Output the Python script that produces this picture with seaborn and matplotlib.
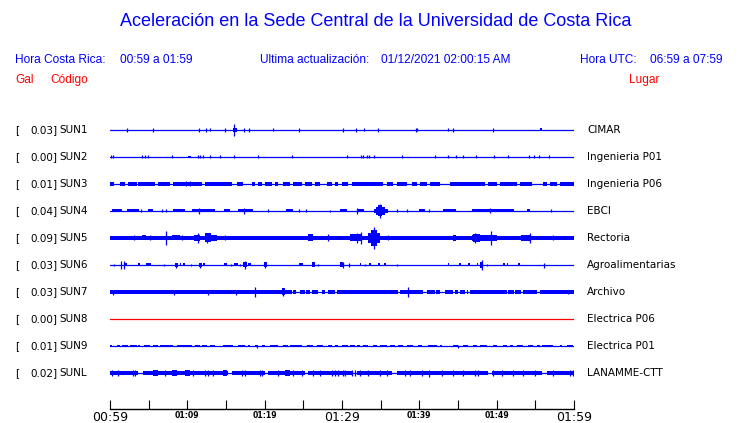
import matplotlib
matplotlib.use("Agg")
import matplotlib.pyplot as plt
import matplotlib.transforms as mtrans
import seaborn as sns

# ---------------- data ----------------
codes = ["SUN1", "SUN2", "SUN3", "SUN4", "SUN5", "SUN6", "SUN7", "SUN8", "SUN9", "SUNL"]
peak_gal = ["0.03", "0.00", "0.01", "0.04", "0.09", "0.03", "0.03", "0.00", "0.01", "0.02"]
places = ["CIMAR", "Ingenieria P01", "Ingenieria P06", "EBCI", "Rectoria",
          "Agroalimentarias", "Archivo", "Electrica P06", "Electrica P01", "LANAMME-CTT"]
trace_colors = ["#0000ff"] * 7 + ["#ff0000"] + ["#0000ff"] * 2

# minutes after 00:59 local time
tick_minutes = [0, 5, 10, 15, 20, 25, 30, 35, 40, 45, 50, 55, 60]
tick_labels = ["00:59", "", "01:09", "", "01:19", "", "01:29", "", "01:39", "", "01:49", "", "01:59"]
major_labels = ["00:59", "01:29", "01:59"]

# envelope blocks: (start minute, end minute, half amplitude)
seg_sun1 = [(15.86, 16.38, 2), (55.6, 55.86, 1.5)]
seg_sun2 = [(10.13, 10.47, 1)]
seg_sun3 = [(0, 0.56, 1.6), (1.29, 1.94, 1.6), (2.37, 3.45, 1.6), (3.66, 5.82, 1.6), (6.25, 7.76, 1.6),
            (8.19, 11.85, 1.6), (12.28, 15.73, 1.6), (16.38, 17.24, 1.6), (18.32, 18.75, 1.6),
            (19.18, 19.61, 1.6), (20.04, 20.91, 1.6), (21.34, 21.77, 1.6), (22.41, 23.28, 1.6),
            (23.71, 24.78, 1.6), (25.22, 26.08, 1.6), (26.51, 27.16, 1.6), (28.02, 28.66, 1.6),
            (29.09, 29.53, 1.6), (29.96, 30.82, 1.6), (31.25, 35.34, 1.6), (35.78, 36.64, 1.6),
            (37.07, 38.36, 1.6), (39.0, 39.66, 1.6), (40.09, 40.95, 1.6), (41.38, 42.67, 1.6),
            (43.97, 48.49, 1.6), (48.92, 50.0, 1.6), (50.43, 52.59, 1.6), (53.02, 54.53, 1.6),
            (56.03, 56.47, 1.6), (56.9, 57.76, 1.6), (58.19, 60, 1.6)]
seg_sun4 = [(0.2, 1.5, 1.5), (2.2, 3.7, 1.5), (4.9, 5.5, 1.5), (8.2, 9.7, 1.5), (10.6, 13.6, 1.5),
            (14.7, 15.5, 1.5), (16.6, 18.5, 1.5), (22.8, 23.7, 1.5), (29.7, 30.6, 1.5),
            (32.0, 32.8, 1.5), (34.1, 36.0, 2), (34.4, 35.5, 4), (34.7, 35.2, 5.5),
            (39.9, 40.7, 1.5), (43.1, 44.8, 1.5), (46.8, 52.2, 1.5), (53.9, 54.3, 1.5)]
seg_sun5 = [(0, 60, 1.9), (4.1, 4.7, 2.5), (8.0, 9.1, 2.5), (10.8, 11.6, 3), (12.3, 13.1, 4.5),
            (13.1, 13.8, 3), (25.6, 26.3, 3.5), (31.0, 32.5, 3.5), (33.4, 34.9, 5),
            (33.8, 34.5, 8), (44.4, 44.8, 3), (46.8, 50.0, 3), (47.0, 47.9, 4), (53.2, 54.3, 3)]
seg_sun6 = [(1.81, 2.16, 1.5), (3.58, 3.84, 1.5), (4.66, 5.26, 1.5), (8.41, 8.75, 2), (9.0, 9.15, 1.5),
            (9.5, 9.65, 1.5), (11.55, 11.85, 2), (12.07, 12.28, 1.5), (14.74, 15.17, 1.5),
            (15.99, 16.59, 1.5), (17.24, 17.67, 2.5), (17.89, 18.23, 1.5), (19.96, 20.26, 2.5),
            (24.48, 24.91, 1.5), (26.08, 26.51, 2.5), (29.74, 30.17, 2.5), (32.3, 32.5, 1.5),
            (33.5, 33.7, 1.5), (34.7, 34.9, 1.5), (35.47, 35.69, 1.5), (43.65, 43.85, 1.5),
            (45.16, 45.36, 1.5), (46.32, 46.52, 1.5), (47.41, 47.63, 1.5), (47.84, 48.28, 3),
            (50.85, 51.05, 1.5), (51.28, 51.48, 1.5), (52.79, 52.99, 1.5)]
seg_sun7 = [(0, 23.5, 1.8), (23.7, 24.1, 1.8), (24.6, 25.2, 1.8), (25.4, 25.9, 1.8), (26.1, 26.9, 1.8),
            (27.4, 27.8, 1.8), (28.2, 29.1, 1.8), (29.3, 37.3, 1.8), (37.5, 40.5, 1.8),
            (41.0, 42.0, 1.8), (42.2, 42.7, 1.8), (43.3, 44.4, 1.8), (44.6, 45.0, 1.8),
            (45.3, 45.9, 1.8), (46.1, 46.3, 1.8), (46.6, 51.3, 1.8), (51.5, 52.2, 1.8),
            (52.4, 53.2, 1.8), (53.4, 55.2, 1.8), (55.6, 60, 1.8), (22.2, 22.6, 3.5)]
seg_sun8 = []
seg_sun9 = [(0, 0.3, 1.4), (0.86, 1.29, 1.4), (1.51, 2.37, 1.4), (2.59, 3.45, 1.4), (3.66, 3.88, 1.4),
            (4.44, 5.17, 1.4), (5.6, 6.25, 1.4), (6.47, 8.19, 1.4), (8.62, 10.56, 1.4),
            (10.99, 11.64, 1.4), (11.85, 12.5, 1.4), (12.93, 13.58, 1.4), (14.66, 15.95, 1.4),
            (16.59, 17.46, 1.4), (17.89, 18.1, 1.4), (18.75, 19.18, 1.4), (19.61, 20.04, 1.4),
            (20.69, 21.77, 1.4), (22.41, 23.06, 1.4), (23.28, 24.78, 1.4), (25.43, 26.29, 1.4),
            (26.72, 27.59, 1.4), (28.23, 28.66, 1.4), (29.09, 29.53, 1.4), (29.96, 30.39, 1.4),
            (30.39, 30.82, 1.4), (31.03, 31.68, 1.4), (31.9, 32.33, 1.4), (32.76, 33.41, 1.4),
            (34.05, 34.48, 1.4), (34.91, 35.78, 1.4), (36.21, 36.85, 1.4), (37.28, 37.93, 1.4),
            (38.36, 39.22, 1.4), (39.87, 40.3, 1.4), (41.16, 42.24, 1.4), (42.67, 42.89, 1.4),
            (44.4, 45.04, 1.4), (45.69, 46.34, 1.4), (46.98, 47.41, 1.4), (47.84, 48.71, 1.4),
            (49.57, 50.0, 1.4), (50.86, 51.29, 1.4), (51.72, 52.16, 1.4), (52.59, 53.45, 1.4),
            (54.09, 54.74, 1.4), (55.17, 55.6, 1.4), (55.82, 57.33, 1.4), (58.19, 58.41, 1.4),
            (59.05, 59.91, 1.4)]
seg_sunl = [(0, 3.66, 2.0), (4.31, 15.3, 2.0), (15.73, 20.04, 2.0), (20.47, 25.22, 2.0),
            (25.65, 31.47, 2.0), (31.9, 36.42, 2.0), (37.07, 48.92, 2.0), (49.35, 55.82, 2.0),
            (56.47, 60, 2.0), (5.6, 6.25, 2.5), (7.97, 8.62, 2.5), (9.7, 10.34, 2.5),
            (14.66, 15.09, 2.5), (22.63, 23.28, 2.5)]

# single spikes: (minute, half amplitude)
spk_sun1 = [(2.16, 2), (5.6, 2), (11.55, 2), (12.41, 2), (12.97, 1.5), (14.87, 2), (16.07, 6),
            (17.37, 2), (18.01, 2), (21.12, 1.5), (24.48, 2), (30.17, 2), (31.81, 2), (32.89, 1.5),
            (34.7, 2), (39.53, 2), (39.74, 1.5), (43.75, 1.5), (44.39, 2), (49.57, 2)]
spk_sun2 = [(0.13, 1.5), (0.43, 1.5), (4.18, 1.5), (4.53, 1.5), (4.95, 1.5), (7.98, 1.5), (11.34, 1.5),
            (11.64, 1.5), (12.07, 1.5), (12.97, 1.5), (14.22, 1.5), (16.07, 1.5), (19.18, 1.5),
            (23.57, 1.5), (30.69, 1.5), (32.42, 1.5), (32.76, 1.5), (33.27, 1.5), (33.49, 1.5),
            (34.18, 1.5), (37.8, 1.5), (42.03, 1.5), (43.75, 1.5), (44.74, 1.5), (45.69, 1.5),
            (47.33, 1.5), (49.66, 1.5), (51.51, 1.5), (54.22, 1.5), (54.83, 1.5), (55.52, 1.5),
            (56.81, 1.5)]
spk_sun3 = [(9.83, 2.5), (10.34, 2.5)]
spk_sun4 = [(4.0, 1.5), (6.7, 1.5), (7.3, 1.5), (11.55, 3), (17.37, 3), (20.4, 1.5), (24.4, 1.5),
            (25.4, 1.5), (28.4, 1), (31.9, 3), (34.9, 7), (37.1, 1.5), (38.4, 1.5), (41.2, 1.5),
            (49.1, 2.5), (57.0, 1.5)]
spk_sun5 = [(3.1, 2.5), (5.2, 2.5), (7.3, 7), (9.3, 2.5), (11.4, 5), (12.5, 5), (14.9, 2.5),
            (28.2, 3.5), (32.0, 5), (32.4, 6), (34.2, 11), (36.0, 2.5), (47.2, 5), (49.3, 7),
            (54.3, 5), (57.3, 2.5)]
spk_sun6 = [(0.56, 1.5), (1.42, 4), (1.85, 3.5), (7.03, 1.5), (8.49, 2.5), (10.43, 1.5), (11.6, 2.5),
            (15.65, 1.5), (16.81, 1.5), (17.5, 3.5), (20.1, 3), (26.94, 1.5), (30.09, 3),
            (30.95, 2), (32.97, 1.5), (37.07, 1.5), (48.06, 4.5), (48.79, 1.5), (56.16, 2.5)]
spk_sun7 = [(0.43, 2.5), (8.28, 2.5), (12.72, 2.5), (16.25, 2.5), (18.75, 4.5), (22.41, 3.5),
            (38.5, 4.5), (59.2, 2)]
spk_sun8 = []
spk_sun9 = [(19.0, 1.5), (45.0, 1.5)]
spk_sunl = [(0.22, 2.5), (1.08, 2.5), (3.02, 2.5), (3.23, 2.5), (7.11, 2.5), (10.78, 2.5), (12.28, 2.5),
            (12.72, 2.5), (13.36, 2.5), (17.03, 2.5), (17.46, 2.5), (19.4, 2.5), (19.61, 2.5),
            (21.77, 2.5), (23.71, 2.5), (24.78, 2.5), (26.29, 2.5), (27.16, 2.5), (28.66, 2.5),
            (29.09, 2.5), (29.53, 2.5), (30.17, 2.5), (30.39, 2.5), (31.25, 2.5), (31.68, 2.5),
            (32.33, 2.5), (33.41, 2.5), (34.91, 2.5), (35.78, 2.5), (38.15, 2.5), (38.79, 2.5),
            (40.3, 2.5), (41.29, 3.5), (42.89, 2.5), (44.4, 2.5), (45.69, 2.5), (47.2, 2.5),
            (47.63, 2.5), (49.57, 2.5), (50.65, 2.5), (52.16, 2.5), (53.45, 2.5), (54.96, 2.5),
            (57.33, 2.5), (59.48, 2.5), (59.91, 2.5)]

segments = [seg_sun1, seg_sun2, seg_sun3, seg_sun4, seg_sun5, seg_sun6, seg_sun7, seg_sun8, seg_sun9, seg_sunl]
spikes = [spk_sun1, spk_sun2, spk_sun3, spk_sun4, spk_sun5, spk_sun6, spk_sun7, spk_sun8, spk_sun9, spk_sunl]

# ---------------- figure ----------------
sns.set_theme(style="white")
plt.rcParams["font.family"] = ["DejaVu Sans"]

W, H = 740, 423
fig = plt.figure(figsize=(W / 100, H / 100), dpi=100)
fig.patch.set_facecolor("white")

LANE = 27.0          # pixels between traces
AMP = 1.0 / LANE     # amplitude units -> lane units
ax = fig.add_axes([110 / W, 1 - 409 / H, 464 / W, (409 - 115) / H])
ax.set_facecolor("white")
ax.set_xlim(0, 60)
ax.set_ylim((409 - 130) / LANE, (115 - 130) / LANE)

for i, code in enumerate(codes):
    col = trace_colors[i]
    sns.lineplot(x=[0, 60], y=[i, i], color=col, linewidth=0.9, ax=ax)
    for (t0, t1, a) in segments[i]:
        ax.fill_between([t0, t1], [i - a * AMP] * 2, [i + a * AMP] * 2, color=col, linewidth=0)
    if spikes[i]:
        ts = [s[0] for s in spikes[i]]
        lo = [i - s[1] * AMP for s in spikes[i]]
        hi = [i + s[1] * AMP for s in spikes[i]]
        ax.vlines(ts, lo, hi, color=col, linewidth=0.9)

# axes styling
for s in ["left", "right", "top"]:
    ax.spines[s].set_visible(False)
ax.spines["bottom"].set_color("black")
ax.spines["bottom"].set_linewidth(1.0)
ax.set_yticks([])
ax.set_xticks(tick_minutes)
ax.set_xticklabels(tick_labels)
ax.tick_params(axis="x", direction="in", length=6.5, width=0.8, color="black", pad=1.2,
               bottom=True)
for lab in ax.get_xticklabels():
    if lab.get_text() in major_labels:
        lab.set_fontsize(9)
    else:
        lab.set_fontsize(5.6)
        lab.set_fontweight("bold")
    lab.set_color("black")

# lane labels
tr = mtrans.blended_transform_factory(fig.transFigure, ax.transData)
for i in range(len(codes)):
    ax.text(15 / W, i, "[", transform=tr, ha="left", va="center", fontsize=7.5, color="black")
    ax.text(57.5 / W, i, peak_gal[i] + "]", transform=tr, ha="right", va="center", fontsize=7.5,
            color="black")
    ax.text(59.5 / W, i, codes[i], transform=tr, ha="left", va="center", fontsize=7.5, color="black")
    ax.text(587 / W, i, places[i], transform=tr, ha="left", va="center", fontsize=7.5, color="black")

# header texts
hf = ["Liberation Sans", "DejaVu Sans"]
blue, red = "#0000ff", "#ff0000"
fig.text(376 / W, 1 - 22 / H, "Aceleración en la Sede Central de la Universidad de Costa Rica",
         ha="center", va="center", fontsize=13, color=blue, family=hf)
fs = 8.6
fig.text(15 / W, 1 - 60 / H, "Hora Costa Rica:", ha="left", va="center", fontsize=fs, color=blue, family=hf)
fig.text(120 / W, 1 - 60 / H, "00:59 a 01:59", ha="left", va="center", fontsize=fs, color=blue, family=hf)
fig.text(260 / W, 1 - 60 / H, "Ultima actualización:", ha="left", va="center", fontsize=fs, color=blue, family=hf)
fig.text(381 / W, 1 - 60 / H, "01/12/2021 02:00:15 AM", ha="left", va="center", fontsize=fs, color=blue, family=hf)
fig.text(580 / W, 1 - 60 / H, "Hora UTC:", ha="left", va="center", fontsize=fs, color=blue, family=hf)
fig.text(650 / W, 1 - 60 / H, "06:59 a 07:59", ha="left", va="center", fontsize=fs, color=blue, family=hf)
fig.text(15 / W, 1 - 80 / H, "Gal", ha="left", va="center", fontsize=fs, color=red, family=hf)
fig.text(50 / W, 1 - 80 / H, "Código", ha="left", va="center", fontsize=fs, color=red, family=hf)
fig.text(629 / W, 1 - 80 / H, "Lugar", ha="left", va="center", fontsize=fs, color=red, family=hf)

fig.savefig("out.png", dpi=100, facecolor="white")
